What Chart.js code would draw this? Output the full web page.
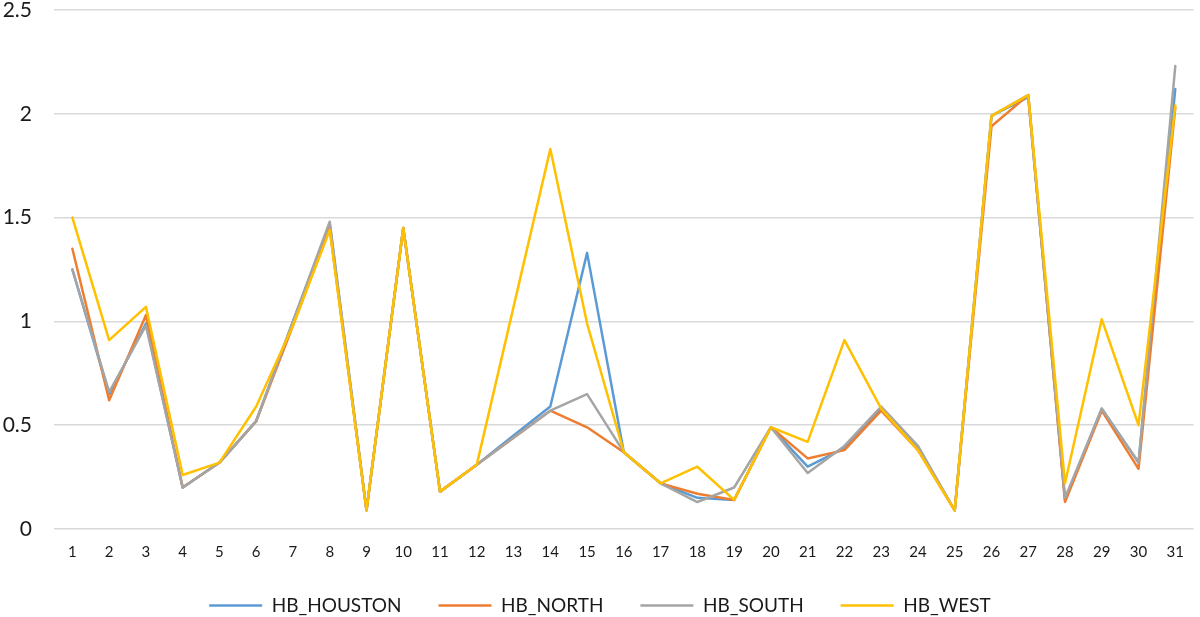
<!DOCTYPE html>
<html>
<head>
<meta charset="utf-8">
<script src="https://cdn.jsdelivr.net/npm/chart.js@4"></script>
<style>
  html, body { margin: 0; padding: 0; background: #fff; }
  #wrap { width: 1200px; height: 617px; }
</style>
</head>
<body>
<div id="wrap"><canvas id="c" width="1200" height="617"></canvas></div>
<script>
const days = ["1","2","3","4","5","6","7","8","9","10","11","12","13","14","15","16","17","18","19","20","21","22","23","24","25","26","27","28","29","30","31"];
const houston = [1.25,0.65,0.99,0.20,0.32,0.52,1.00,1.47,0.09,1.45,0.18,0.31,0.45,0.59,1.33,0.37,0.22,0.15,0.14,0.49,0.30,0.39,0.58,0.39,0.09,1.99,2.08,0.14,0.58,0.32,2.12];
const north   = [1.35,0.62,1.03,0.20,0.32,0.52,0.98,1.45,0.09,1.45,0.18,0.31,0.44,0.57,0.49,0.37,0.22,0.17,0.14,0.49,0.34,0.38,0.57,0.38,0.09,1.94,2.09,0.13,0.57,0.29,2.03];
const south   = [1.25,0.66,0.98,0.20,0.32,0.52,1.00,1.48,0.09,1.45,0.18,0.31,0.44,0.57,0.65,0.37,0.22,0.13,0.20,0.49,0.27,0.40,0.59,0.40,0.09,1.99,2.09,0.15,0.58,0.32,2.23];
const west    = [1.50,0.91,1.07,0.26,0.32,0.59,0.98,1.44,0.09,1.45,0.18,0.31,1.07,1.83,0.99,0.37,0.22,0.30,0.14,0.49,0.42,0.91,0.58,0.38,0.09,1.99,2.09,0.22,1.01,0.50,2.04];
const seriesNames = ["HB_HOUSTON","HB_NORTH","HB_SOUTH","HB_WEST"];
const yTicks = [0, 0.5, 1, 1.5, 2, 2.5];
const yTickLabels = ["0","0.5","1","1.5","2","2.5"];

const colors = ["#5B9BD5","#ED7D31","#A5A5A5","#FFC000"];
const allSeries = [houston, north, south, west];
const FONT = "Lato, 'Open Sans', sans-serif";

const datasets = allSeries.map((d, i) => ({
  label: seriesNames[i],
  data: d,
  borderColor: colors[i],
  backgroundColor: colors[i],
  borderWidth: 2.5,
  borderJoinStyle: 'round',
  borderCapStyle: 'round',
  pointRadius: 0,
  pointHoverRadius: 0,
  tension: 0,
  fill: false,
  order: allSeries.length - i
}));

const legendFix = {
  id: 'legendFix',
  beforeLayout(chart) {
    const lg = chart.legend;
    if (lg && !lg._patched) {
      const orig = lg.fit;
      lg.fit = function () { orig.call(this); this.height = 58; };
      lg._patched = true;
    }
  }
};

new Chart(document.getElementById('c'), {
  type: 'line',
  data: { labels: days, datasets },
  plugins: [legendFix],
  options: {
    responsive: false,
    animation: false,
    devicePixelRatio: 1,
    layout: { padding: { top: 10, right: 0, left: 0, bottom: 0 } },
    plugins: {
      tooltip: { enabled: false },
      legend: {
        position: 'bottom',
        labels: {
          usePointStyle: true,
          pointStyle: 'line',
          pointStyleWidth: 53,
          boxHeight: 19,
          padding: 37,
          color: '#1a1a1a',
          font: { family: FONT, size: 19 },
          sort: (a, b) => a.datasetIndex - b.datasetIndex
        }
      }
    },
    scales: {
      x: {
        offset: true,
        grid: { display: false, drawTicks: false },
        border: { display: false },
        afterFit: (s) => { s.height = 30; },
        ticks: { color: '#1a1a1a', font: { family: FONT, size: 15, lineHeight: 1 }, padding: 16, maxRotation: 0, autoSkip: false }
      },
      y: {
        min: 0,
        max: 2.5,
        afterBuildTicks: (s) => { s.ticks = yTicks.map(v => ({ value: v })); },
        afterFit: (s) => { s.width = 54; s.paddingTop = 0; s.paddingBottom = 0; },
        grid: { color: '#d9d9d9', lineWidth: 1.5, drawTicks: false },
        border: { display: false },
        ticks: {
          color: '#1a1a1a', font: { family: FONT, size: 21 }, padding: 22,
          callback: (v, i) => yTickLabels[i]
        }
      }
    }
  }
});
</script>
</body>
</html>
